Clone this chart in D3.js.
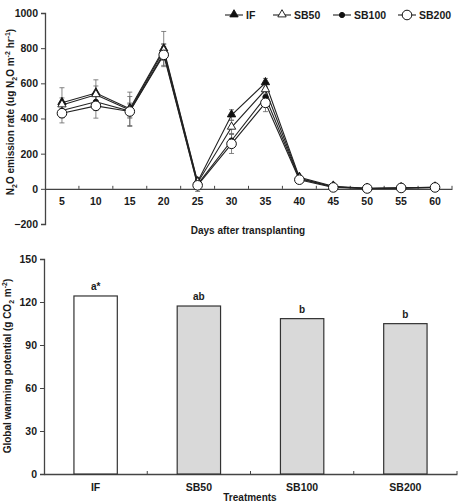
<!DOCTYPE html>
<html>
<head>
<meta charset="utf-8">
<script src="https://cdn.jsdelivr.net/npm/d3@7"></script>
<style>
  body { margin: 0; background: #fff; }
  text { font-family: "Liberation Sans", Arial, sans-serif; font-weight: bold; fill: #1a1a1a; }
</style>
</head>
<body>
<script>
var width = 466;
var height = 502;

// top chart data
var days = [5, 10, 15, 20, 25, 30, 35, 40, 45, 50, 55, 60];
var seriesNames = ["IF", "SB50", "SB100", "SB200"];
var IF = [490, 545, 455, 795, 40, 420, 603, 65, 15, 3, 5, 10];
var SB50 = [477, 535, 448, 785, 35, 350, 563, 60, 12, 2, 5, 8];
var SB100 = [445, 495, 442, 770, 25, 275, 522, 57, 10, 2, 5, 8];
var SB200 = [430, 472, 440, 762, 20, 256, 489, 52, 8, 2, 5, 8];
var errIF = [85, 75, 95, 100, 25, 30, 25, 8, 5, 2, 2, 3];
var errSB50 = [40, 50, 40, 40, 20, 40, 40, 6, 4, 2, 2, 3];
var errSB100 = [40, 50, 40, 40, 20, 40, 40, 6, 4, 2, 2, 3];
var errSB200 = [55, 70, 85, 60, 35, 55, 50, 8, 5, 2, 2, 3];
var yTicksTop = [-200, 0, 200, 400, 600, 800, 1000];

// bottom chart data
var treatments = ["IF", "SB50", "SB100", "SB200"];
var gwp = [124.2, 117.2, 108.4, 104.9];
var letters = ["a*", "ab", "b", "b"];
var yTicksBottom = [0, 30, 60, 90, 120, 150];

var svg = d3.select("body").append("svg")
    .attr("width", width)
    .attr("height", height);

var axisColor = "#444";

// ---------- top chart ----------
var x1 = d3.scaleBand().domain(days).range([45, 452]);
var y1 = d3.scaleLinear().domain([-200, 1000]).range([224, 13]);

// y axis
var gy1 = svg.append("g").attr("transform", "translate(45,0)")
    .call(d3.axisLeft(y1).tickValues(yTicksTop).tickFormat(d3.format("d")).tickSize(4).tickPadding(3));
// x axis at zero
var gx1 = svg.append("g").attr("transform", "translate(0," + y1(0) + ")")
    .call(d3.axisBottom(x1).tickSize(0).tickPadding(7));
gx1.selectAll(".tick").append("line")
    .attr("x1", x1.bandwidth() / 2).attr("x2", x1.bandwidth() / 2)
    .attr("y1", 0).attr("y2", -3)
    .attr("stroke", axisColor);

[gy1, gx1].forEach(function(g) {
    g.select(".domain").attr("stroke", axisColor).attr("stroke-width", 1.3);
    g.selectAll(".tick line").attr("stroke", axisColor);
    g.selectAll(".tick text").style("font-size", "10.5px").style("font-family", "Liberation Sans, Arial").style("font-weight", "bold").attr("fill", "#1a1a1a");
});
gx1.selectAll(".tick text").attr("dy", "0.9em");

var series = [
    {name: "IF", values: IF, err: errIF, shape: "triFill"},
    {name: "SB50", values: SB50, err: errSB50, shape: "triOpen"},
    {name: "SB100", values: SB100, err: errSB100, shape: "dotFill"},
    {name: "SB200", values: SB200, err: errSB200, shape: "circOpen"}
];

function cx(i) { return x1(days[i]) + x1.bandwidth() / 2; }

// error bars
series.forEach(function(s) {
    var g = svg.append("g").attr("stroke", "#666").attr("stroke-width", 0.8);
    s.values.forEach(function(v, i) {
        var top = y1(v + s.err[i]), bot = y1(v - s.err[i]);
        g.append("line").attr("x1", cx(i)).attr("x2", cx(i)).attr("y1", top).attr("y2", bot);
        g.append("line").attr("x1", cx(i) - 2.5).attr("x2", cx(i) + 2.5).attr("y1", top).attr("y2", top);
        g.append("line").attr("x1", cx(i) - 2.5).attr("x2", cx(i) + 2.5).attr("y1", bot).attr("y2", bot);
    });
});

var line = d3.line().x(function(d, i) { return cx(i); }).y(function(d) { return y1(d); });

series.forEach(function(s) {
    svg.append("path").datum(s.values)
        .attr("d", line)
        .attr("fill", "none")
        .attr("stroke", "#222")
        .attr("stroke-width", 1.1);
});

function drawMarker(g, shape, x, y) {
    if (shape === "triFill" || shape === "triOpen") {
        g.append("path")
            .attr("d", d3.symbol().type(d3.symbolTriangle).size(30)())
            .attr("transform", "translate(" + x + "," + (y - 0.5) + ")")
            .attr("fill", shape === "triFill" ? "#111" : "#fff")
            .attr("stroke", "#111").attr("stroke-width", 0.9);
    } else if (shape === "dotFill") {
        g.append("circle").attr("cx", x).attr("cy", y).attr("r", 2.6)
            .attr("fill", "#111").attr("stroke", "#111");
    } else {
        g.append("circle").attr("cx", x).attr("cy", y).attr("r", 4.8)
            .attr("fill", "#fff").attr("stroke", "#111").attr("stroke-width", 1);
    }
}

series.forEach(function(s) {
    var g = svg.append("g");
    s.values.forEach(function(v, i) { drawMarker(g, s.shape, cx(i), y1(v)); });
});

// legend
var legendX = [225, 273, 333, 398];
series.forEach(function(s, i) {
    var g = svg.append("g").attr("transform", "translate(" + legendX[i] + ",15)");
    g.append("line").attr("x1", 0).attr("x2", 18).attr("y1", 0).attr("y2", 0)
        .attr("stroke", "#222").attr("stroke-width", 1.1);
    drawMarker(g, s.shape, 9, 0);
    g.append("text").attr("x", 21).attr("y", 4).style("font-size", "10.5px").text(s.name);
});

// axis titles
svg.append("text").attr("x", 248).attr("y", 234).attr("text-anchor", "middle")
    .style("font-size", "10px").text("Days after transplanting");

var yt1 = svg.append("text").attr("transform", "translate(14,112) rotate(-90)")
    .attr("text-anchor", "middle").style("font-size", "10px");
yt1.append("tspan").text("N");
yt1.append("tspan").attr("dy", 3).style("font-size", "7px").text("2");
yt1.append("tspan").attr("dy", -3).text("O emission rate (ug N");
yt1.append("tspan").attr("dy", 3).style("font-size", "7px").text("2");
yt1.append("tspan").attr("dy", -3).text("O m");
yt1.append("tspan").attr("dy", -4).style("font-size", "7px").text("-2");
yt1.append("tspan").attr("dy", 4).text(" hr");
yt1.append("tspan").attr("dy", -4).style("font-size", "7px").text("-1");
yt1.append("tspan").attr("dy", 4).text(")");

// ---------- bottom chart ----------
var x2 = d3.scaleBand().domain(treatments).range([44, 457]).paddingInner(0.58).paddingOuter(0.29);
var y2 = d3.scaleLinear().domain([0, 150]).range([474, 259]);

var bandStep = (457 - 44) / treatments.length;
var gy2 = svg.append("g").attr("transform", "translate(44,0)")
    .call(d3.axisLeft(y2).tickValues(yTicksBottom).tickSize(4).tickPadding(3));
var gx2 = svg.append("g").attr("transform", "translate(0,474)")
    .call(d3.axisBottom(x2).tickSize(0).tickPadding(8));
gx2.selectAll(".tick").append("line")
    .attr("x1", bandStep / 2).attr("x2", bandStep / 2)
    .attr("y1", 0).attr("y2", -3)
    .attr("stroke", axisColor);

[gy2, gx2].forEach(function(g) {
    g.select(".domain").attr("stroke", axisColor).attr("stroke-width", 1.3);
    g.selectAll(".tick line").attr("stroke", axisColor);
    g.selectAll(".tick text").style("font-size", "10.5px").style("font-family", "Liberation Sans, Arial").style("font-weight", "bold").attr("fill", "#1a1a1a");
});
gx2.selectAll(".tick text").attr("dy", "0.9em");

svg.selectAll("rect.bar")
    .data(gwp)
    .enter()
    .append("rect")
        .attr("class", "bar")
        .attr("x", function(d, i) { return x2(treatments[i]); })
        .attr("y", function(d) { return y2(d); })
        .attr("width", x2.bandwidth())
        .attr("height", function(d) { return 474 - y2(d); })
        .attr("fill", function(d, i) { return i === 0 ? "#fff" : "#d9d9d9"; })
        .attr("stroke", "#333")
        .attr("stroke-width", 1.2);

svg.selectAll("text.letter")
    .data(gwp)
    .enter()
    .append("text")
        .attr("class", "letter")
        .attr("x", function(d, i) { return x2(treatments[i]) + x2.bandwidth() / 2; })
        .attr("y", function(d) { return y2(d) - 6; })
        .attr("text-anchor", "middle")
        .style("font-size", "10px")
        .text(function(d, i) { return letters[i]; });

svg.append("text").attr("x", 250).attr("y", 501).attr("text-anchor", "middle")
    .style("font-size", "10px").text("Treatments");

var yt2 = svg.append("text").attr("transform", "translate(11,366) rotate(-90)")
    .attr("text-anchor", "middle").style("font-size", "10px");
yt2.append("tspan").text("Global warming potential (g CO");
yt2.append("tspan").attr("dy", 3).style("font-size", "7px").text("2");
yt2.append("tspan").attr("dy", -3).text(" m");
yt2.append("tspan").attr("dy", -4).style("font-size", "7px").text("-2");
yt2.append("tspan").attr("dy", 4).text(")");
</script>
</body>
</html>
